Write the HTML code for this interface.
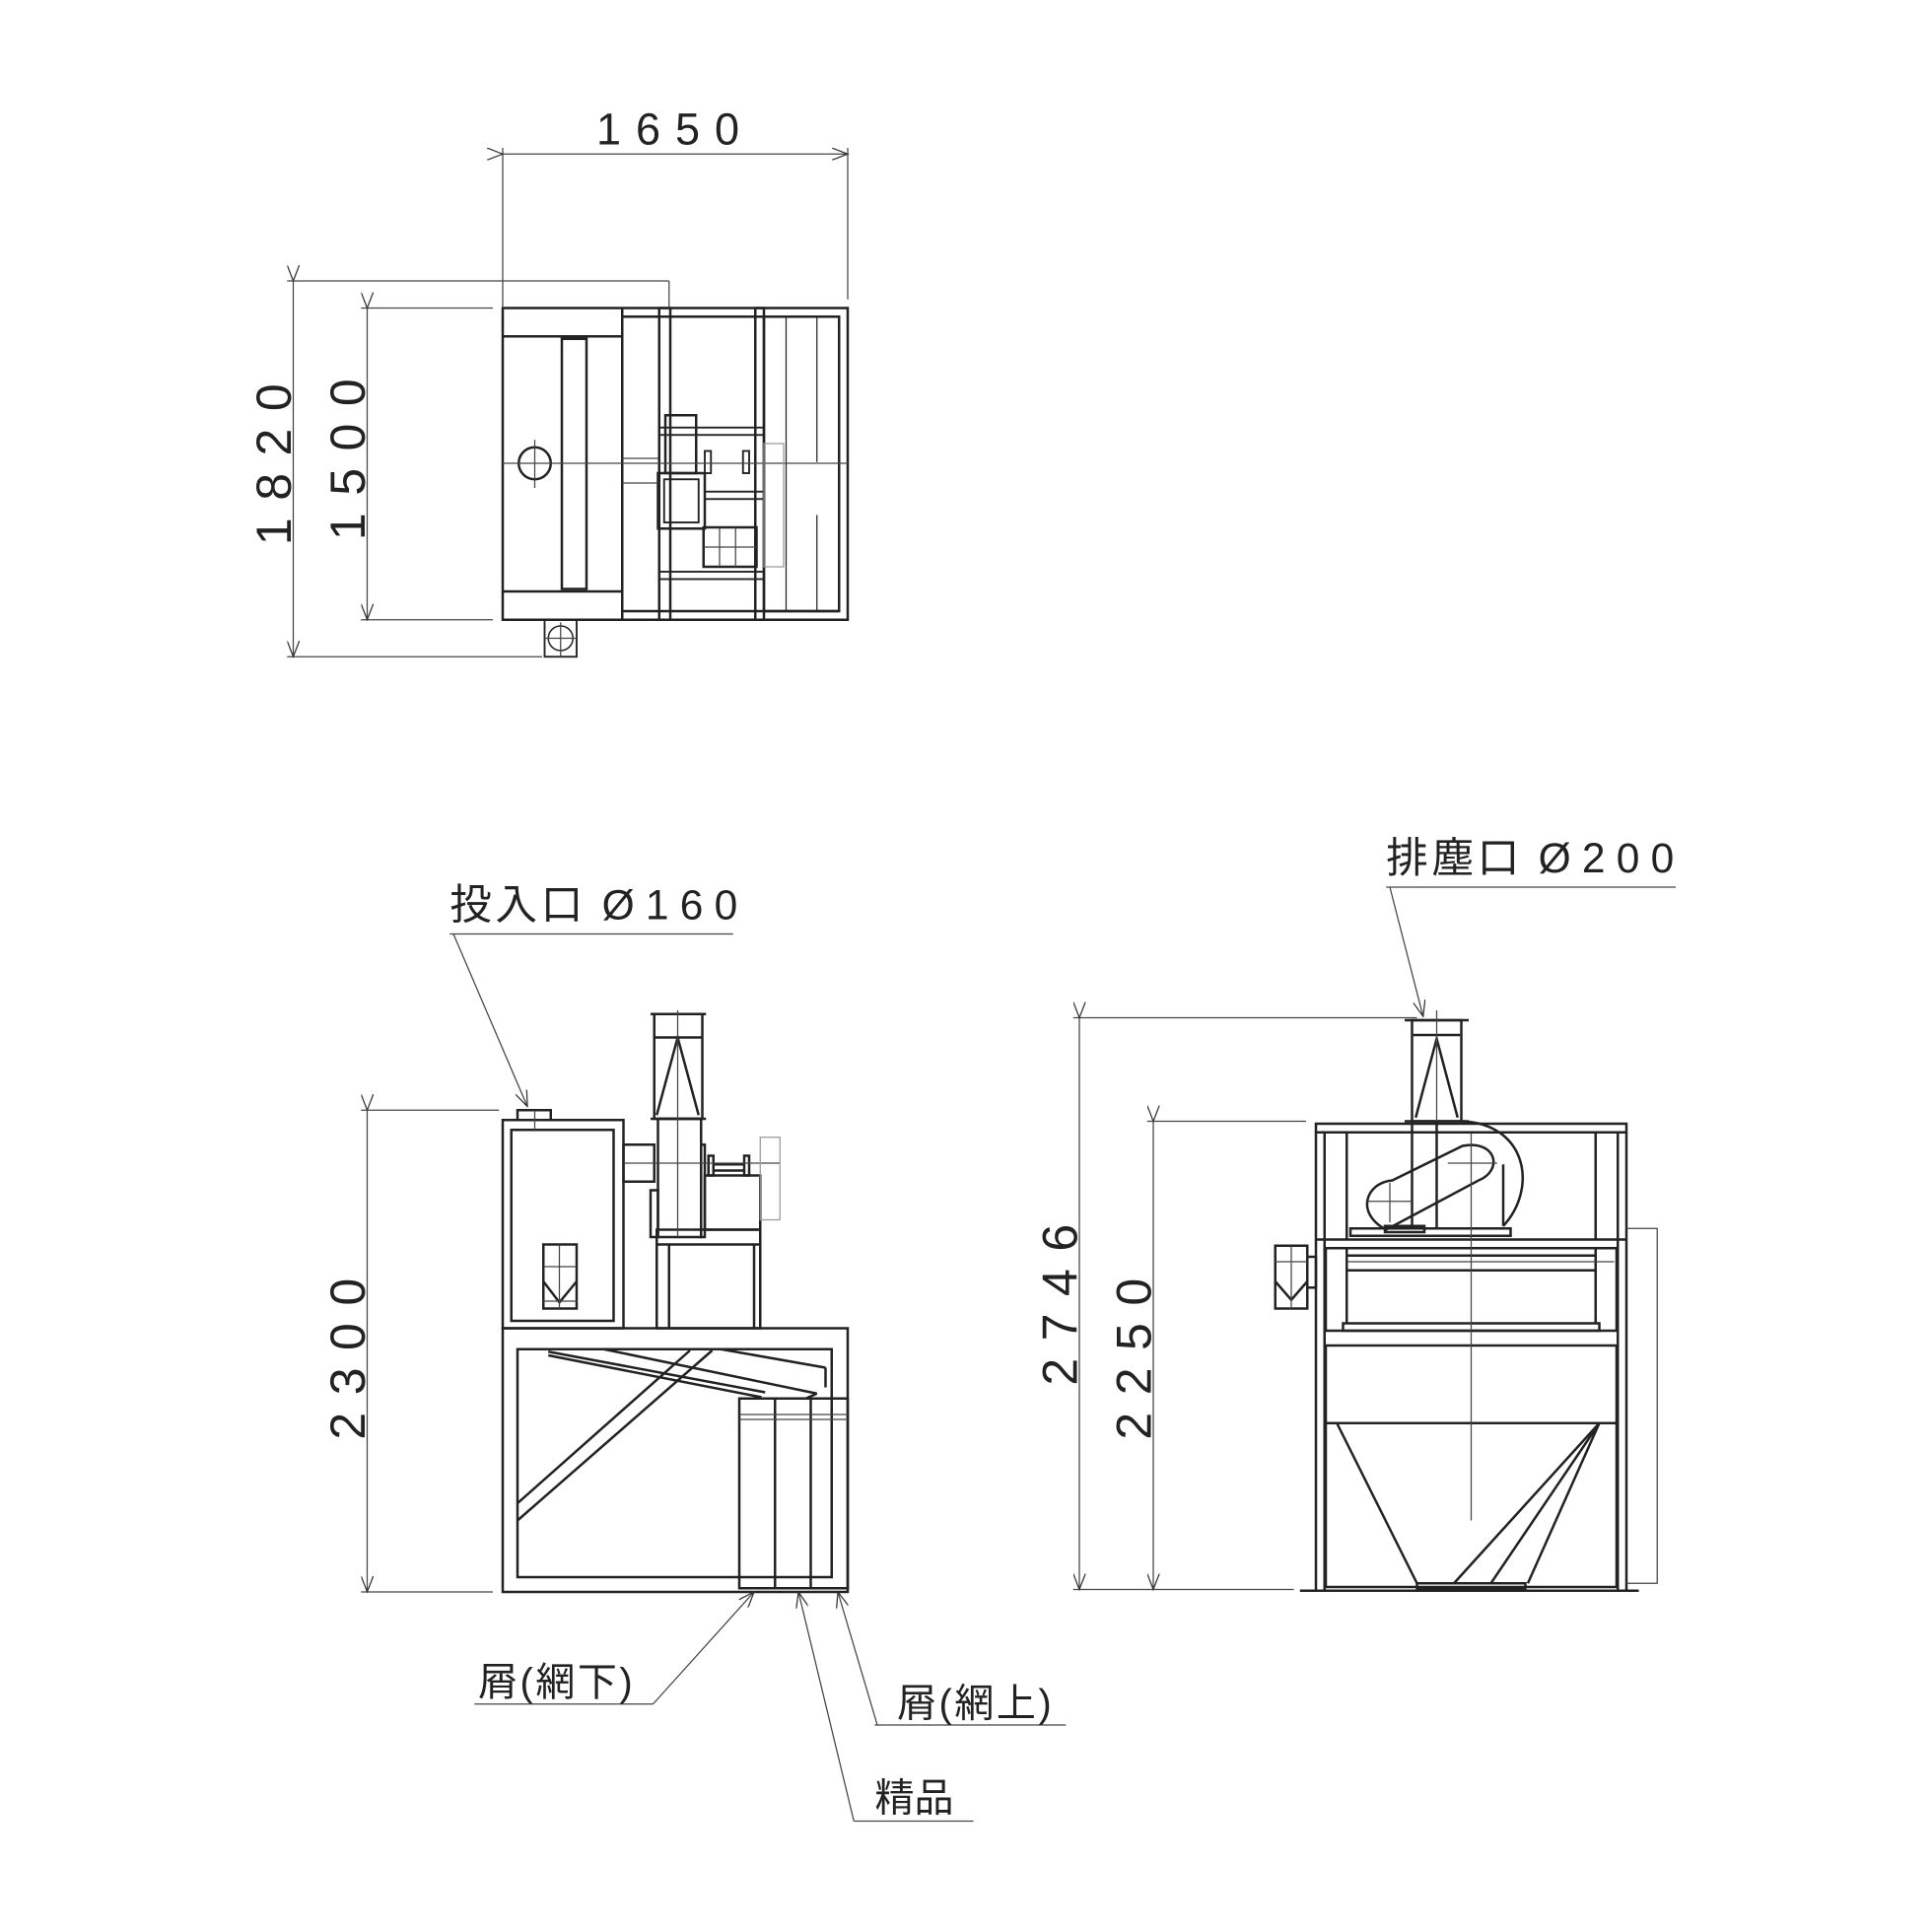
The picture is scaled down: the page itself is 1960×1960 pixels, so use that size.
<!DOCTYPE html>
<html><head><meta charset="utf-8"><style>
html,body{margin:0;padding:0;background:#fff}
svg{display:block}
text{font-family:"Liberation Sans","Noto Sans CJK JP",sans-serif;fill:#222}
</style></head><body>
<svg width="1960" height="1960" viewBox="0 0 1568 1568" xmlns="http://www.w3.org/2000/svg">
<defs>
<marker id="a" markerWidth="14" markerHeight="10" refX="13" refY="5" orient="auto" markerUnits="userSpaceOnUse"><path d="M0,0 L13,5 L0,10" fill="none" stroke="#333" stroke-width="1"/></marker>
</defs>
<g fill="none" stroke="#222" stroke-width="2">
<rect x="408" y="250" width="280" height="253"/>
<line x1="505" y1="250" x2="505" y2="503"/>
<line x1="408" y1="273" x2="505" y2="273"/>
<line x1="408" y1="480" x2="505" y2="480"/>
<rect x="456" y="275" width="20" height="203"/>
<line x1="505" y1="257" x2="681" y2="257"/>
<line x1="505" y1="496" x2="681" y2="496"/>
<rect x="535" y="250" width="9" height="253"/>
<rect x="613" y="250" width="7" height="253"/>
<rect x="620" y="257" width="61" height="239"/>
<line x1="638" y1="257" x2="638" y2="496" stroke-width="1"/>
<line x1="663" y1="257" x2="663" y2="375" stroke-width="1"/>
<line x1="663" y1="418" x2="663" y2="496" stroke-width="1"/>
<circle cx="434" cy="376" r="13"/>
<rect x="540" y="337" width="25" height="47"/>
<rect x="534" y="384" width="38" height="45"/>
<rect x="539" y="389" width="28" height="35" stroke-width="1.5"/>
<rect x="571" y="428" width="43" height="32"/>
<rect x="535" y="347" width="85" height="6" stroke-width="1.5"/>
<rect x="572" y="399" width="48" height="6" stroke-width="1.5"/>
<rect x="535" y="464" width="85" height="6" stroke-width="1.5"/>
<rect x="572" y="366" width="5" height="18" stroke-width="1.5"/>
<rect x="603" y="366" width="5" height="18" stroke-width="1.5"/>
<rect x="442" y="503" width="26" height="30" stroke-width="1.5"/>
<circle cx="455" cy="518" r="10" stroke-width="1.2"/>
</g>
<g fill="none" stroke="#444" stroke-width="1">
<line x1="408" y1="376" x2="688" y2="376"/>
<line x1="434" y1="357" x2="434" y2="396"/>
<line x1="505" y1="372" x2="534" y2="372"/>
<line x1="505" y1="392" x2="534" y2="392"/>
<rect x="620" y="360" width="16" height="100" stroke="#999"/>
<line x1="584" y1="428" x2="584" y2="460"/><line x1="597" y1="428" x2="597" y2="460"/>
<line x1="571" y1="444" x2="614" y2="444"/>
<line x1="455" y1="505" x2="455" y2="533"/><line x1="442" y1="518" x2="468" y2="518"/>
<line x1="408" y1="120" x2="408" y2="250"/>
<line x1="688" y1="120" x2="688" y2="243"/>
<line x1="408" y1="125" x2="688" y2="125" marker-start="url(#a)" marker-end="url(#a)"/>
<line x1="233" y1="228" x2="543" y2="228"/>
<line x1="543" y1="228" x2="543" y2="250"/>
<line x1="233" y1="533" x2="440" y2="533"/>
<line x1="238" y1="228" x2="238" y2="533" marker-start="url(#a)" marker-end="url(#a)"/>
<line x1="293" y1="250" x2="400" y2="250"/>
<line x1="293" y1="503" x2="400" y2="503"/>
<line x1="298" y1="250" x2="298" y2="503" marker-start="url(#a)" marker-end="url(#a)"/>
</g>
<text x="548" y="117" font-size="36" letter-spacing="12" text-anchor="middle">1650</text>
<text transform="translate(236,370) rotate(-90)" font-size="40" letter-spacing="14" text-anchor="middle">1820</text>
<text transform="translate(296,366) rotate(-90)" font-size="40" letter-spacing="14" text-anchor="middle">1500</text>

<g fill="none" stroke="#222" stroke-width="2">
<rect x="408" y="909" width="98" height="169"/>
<rect x="415" y="917" width="83" height="155"/>
<rect x="420" y="901" width="27" height="8"/>
<rect x="441" y="1010" width="27" height="52"/>
<polyline points="441,1040 454,1057 468,1040"/>
<rect x="506" y="929" width="25" height="30"/>
<rect x="534" y="908" width="35" height="96"/>
<rect x="528" y="966" width="6" height="38"/>
<rect x="531" y="823" width="39" height="85"/>
<line x1="528" y1="823" x2="573" y2="823"/>
<line x1="528" y1="908" x2="573" y2="908"/>
<line x1="531" y1="842" x2="570" y2="842"/>
<polyline points="533,905 550,842 567,905"/>
<rect x="569" y="929" width="3" height="75"/>
<rect x="572" y="954" width="45" height="44"/>
<rect x="575" y="938" width="4" height="16"/>
<rect x="604" y="938" width="4" height="16"/>
<line x1="579" y1="945" x2="604" y2="945"/>
<line x1="579" y1="950" x2="604" y2="950"/>
<rect x="533" y="998" width="84" height="80"/>
<line x1="533" y1="1010" x2="617" y2="1010"/>
<line x1="543" y1="1010" x2="543" y2="1078"/>
<line x1="612" y1="1010" x2="612" y2="1078"/>
<rect x="408" y="1078" width="280" height="214"/>
<rect x="420" y="1095" width="255" height="185"/>
<line x1="445" y1="1097" x2="621" y2="1130"/>
<line x1="445" y1="1100" x2="618" y2="1134"/>
<line x1="490" y1="1095" x2="663" y2="1131"/>
<line x1="663" y1="1131" x2="654" y2="1135"/>
<line x1="585" y1="1095" x2="670" y2="1110"/>
<line x1="670" y1="1110" x2="670" y2="1126"/>
<line x1="420" y1="1220" x2="560" y2="1096"/>
<line x1="420" y1="1234" x2="578" y2="1096"/>
<rect x="600" y="1135" width="88" height="154"/>
<line x1="629" y1="1135" x2="629" y2="1289"/>
<line x1="658" y1="1135" x2="658" y2="1289"/>
</g>
<g fill="none" stroke="#444" stroke-width="1">
<line x1="550" y1="820" x2="550" y2="1004"/>
<line x1="434" y1="901" x2="434" y2="917"/>
<line x1="454" y1="1010" x2="454" y2="1062"/>
<line x1="441" y1="1028" x2="468" y2="1028"/>
<line x1="441" y1="1056" x2="468" y2="1056"/>
<line x1="506" y1="944" x2="633" y2="944"/>
<rect x="617" y="923" width="16" height="67" stroke="#999"/>
<line x1="600" y1="1148" x2="688" y2="1148"/>
<line x1="600" y1="1152" x2="688" y2="1152"/>
<line x1="293" y1="901" x2="405" y2="901"/>
<line x1="293" y1="1292" x2="400" y2="1292"/>
<line x1="298" y1="901" x2="298" y2="1292" marker-start="url(#a)" marker-end="url(#a)"/>
<line x1="365" y1="758" x2="595" y2="758"/>
<line x1="368" y1="758" x2="428" y2="898" marker-end="url(#a)"/>
<line x1="385" y1="1383" x2="530" y2="1383"/>
<line x1="530" y1="1383" x2="612" y2="1292" marker-end="url(#a)"/>
<line x1="710" y1="1400" x2="865" y2="1400"/>
<line x1="712" y1="1400" x2="680" y2="1292" marker-end="url(#a)"/>
<line x1="693" y1="1478" x2="790" y2="1478"/>
<line x1="693" y1="1478" x2="648" y2="1292" marker-end="url(#a)"/>
</g>
<text transform="translate(296,1096) rotate(-90)" font-size="40" letter-spacing="14" text-anchor="middle">2300</text>
<text x="365" y="746" font-size="34" letter-spacing="3">投入口 <tspan letter-spacing="9">Ø160</tspan></text>
<text x="388" y="1376" font-size="32" letter-spacing="2">屑(網下)</text>
<text x="728" y="1393" font-size="32" letter-spacing="2">屑(網上)</text>
<text x="710" y="1470" font-size="32">精品</text>

<g fill="none" stroke="#222" stroke-width="2">
<rect x="1068" y="912" width="252" height="7"/>
<line x1="1068" y1="919" x2="1068" y2="1290"/>
<line x1="1075" y1="919" x2="1075" y2="1290"/>
<line x1="1093" y1="919" x2="1093" y2="1006"/>
<line x1="1295" y1="919" x2="1295" y2="1006"/>
<line x1="1313" y1="919" x2="1313" y2="1290"/>
<line x1="1320" y1="919" x2="1320" y2="1290"/>
<line x1="1068" y1="1006" x2="1320" y2="1006"/>
<rect x="1076" y="1013" width="236" height="67"/>
<line x1="1093" y1="1019" x2="1295" y2="1019"/>
<line x1="1093" y1="1031" x2="1295" y2="1031"/>
<line x1="1093" y1="1013" x2="1093" y2="1074"/>
<line x1="1295" y1="1013" x2="1295" y2="1074"/>
<rect x="1090" y="1074" width="208" height="6"/>
<rect x="1076" y="1092" width="236" height="196"/>
<line x1="1076" y1="1155" x2="1312" y2="1155"/>
<line x1="1085" y1="1155" x2="1150" y2="1285"/>
<line x1="1298" y1="1155" x2="1180" y2="1285"/>
<line x1="1298" y1="1155" x2="1210" y2="1285"/>
<line x1="1298" y1="1155" x2="1240" y2="1285"/>
<rect x="1150" y="1285" width="88" height="4"/>
<line x1="1055" y1="1291" x2="1330" y2="1291"/>
<rect x="1146" y="828" width="40" height="82"/>
<line x1="1140" y1="828" x2="1192" y2="828"/>
<line x1="1147" y1="840" x2="1185" y2="840"/>
<polyline points="1149,907 1166,843 1183,907"/>
<line x1="1140" y1="910" x2="1192" y2="910"/>
<line x1="1146" y1="910" x2="1146" y2="998"/>
<line x1="1166" y1="910" x2="1166" y2="998"/>
<path d="M1186,910 C1240,912 1248,965 1220,995"/>
<line x1="1220" y1="945" x2="1220" y2="995"/>
<path d="M1125,998 C1100,985 1108,960 1130,958 L1187,930 C1215,925 1220,950 1200,958 L1140,990 Z"/>
<rect x="1124" y="995" width="32" height="5"/>
<rect x="1096" y="997" width="130" height="6"/>
<rect x="1035" y="1011" width="26" height="51"/>
<polyline points="1035,1040 1048,1055 1061,1040"/>
<rect x="1061" y="1020" width="7" height="25"/>
</g>
<g fill="none" stroke="#444" stroke-width="1">
<line x1="1194" y1="920" x2="1194" y2="1234"/>
<line x1="1166" y1="820" x2="1166" y2="910"/>
<line x1="1175" y1="944" x2="1215" y2="944"/>
<line x1="1110" y1="975" x2="1145" y2="975"/>
<line x1="1128" y1="960" x2="1128" y2="992"/>
<line x1="1048" y1="1011" x2="1048" y2="1062"/>
<line x1="1035" y1="1024" x2="1061" y2="1024"/>
<line x1="1093" y1="1024" x2="1310" y2="1024"/>
<polyline points="1320,997 1345,997 1345,1285 1320,1285"/>
<line x1="871" y1="826" x2="1150" y2="826"/>
<line x1="931" y1="910" x2="1060" y2="910"/>
<line x1="871" y1="1290" x2="1050" y2="1290"/>
<line x1="876" y1="826" x2="876" y2="1290" marker-start="url(#a)" marker-end="url(#a)"/>
<line x1="936" y1="910" x2="936" y2="1290" marker-start="url(#a)" marker-end="url(#a)"/>
<line x1="1125" y1="720" x2="1360" y2="720"/>
<line x1="1128" y1="720" x2="1155" y2="825" marker-end="url(#a)"/>
</g>
<text transform="translate(874,1052) rotate(-90)" font-size="40" letter-spacing="14" text-anchor="middle">2746</text>
<text transform="translate(934,1096) rotate(-90)" font-size="40" letter-spacing="14" text-anchor="middle">2250</text>
<text x="1125" y="708" font-size="34" letter-spacing="3">排塵口 <tspan letter-spacing="9">Ø200</tspan></text>
</svg>
</body></html>
